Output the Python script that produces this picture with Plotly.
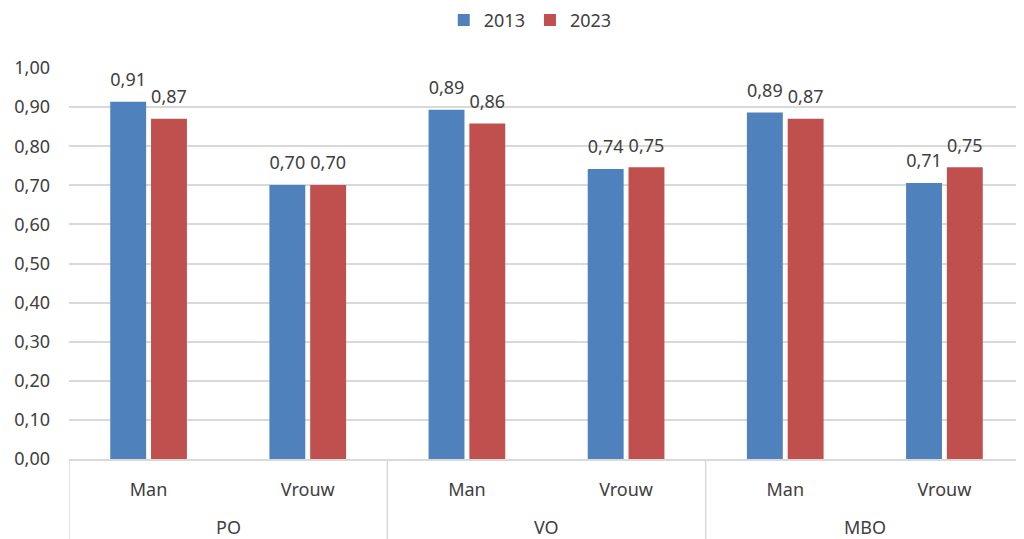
import plotly.graph_objects as go

group_names = ["PO", "VO", "MBO"]
groups = ["PO", "PO", "VO", "VO", "MBO", "MBO"]
genders = ["Man", "Vrouw", "Man", "Vrouw", "Man", "Vrouw"]
values_2013 = [0.914, 0.701, 0.893, 0.742, 0.886, 0.706]
values_2023 = [0.870, 0.701, 0.858, 0.746, 0.870, 0.746]
series_names = ["2013", "2023"]
colors = ["#4F81BD", "#C0504D"]

font_family = "Noto Sans, Open Sans, sans-serif"
text_color = "#404040"
grid_color = "#D9D9D9"

categories = [f"{g} {s}" for g, s in zip(groups, genders)]

fig = go.Figure()
for name, vals, col in zip(series_names, [values_2013, values_2023], colors):
    fig.add_trace(go.Bar(
        x=categories, y=vals, name=name,
        offsetgroup=name, alignmentgroup="all",
        marker=dict(color=col, line=dict(width=0)),
        cliponaxis=False,
    ))
for name, vals in zip(series_names, [values_2013, values_2023]):
    fig.add_trace(go.Scatter(
        x=categories, y=vals, name=name + " labels",
        offsetgroup=name, alignmentgroup="all",
        mode="markers+text", marker=dict(size=16, opacity=0),
        text=[f"{v:.2f}".replace(".", ",") for v in vals],
        textposition="top center",
        textfont=dict(size=18, color=text_color, family=font_family),
        showlegend=False, hoverinfo="skip", cliponaxis=False,
    ))

# group labels and dividers (positions on the category axis)
for i, g in enumerate(group_names):
    fig.add_annotation(x=2 * i + 0.5, xref="x", y=-68 / 391, yref="paper",
                       text=g, showarrow=False, yanchor="middle",
                       font=dict(size=18, color=text_color, family=font_family))
for xpos in [-0.5, 1.5, 3.5, 5.5]:
    fig.add_shape(type="line", xref="x", yref="paper", x0=xpos, x1=xpos,
                  y0=0, y1=-80 / 391, line=dict(color=grid_color, width=1.5))

fig.update_layout(
    width=1016, height=531,
    separators=",.",
    barmode="group", bargap=0.4875, bargroupgap=0.12,
    scattermode="group", scattergap=0.4875,
    plot_bgcolor="white", paper_bgcolor="white",
    margin=dict(l=61, r=0, t=60, b=80, autoexpand=False),
    font=dict(family=font_family, size=18, color=text_color),
    legend=dict(orientation="h", x=0.483, xanchor="center", y=0.977, yref="container",
                yanchor="middle", font=dict(size=18), traceorder="normal"),
    showlegend=True,
)
fig.update_yaxes(range=[0, 1.0], dtick=0.1, tickformat=".2f",
                 showgrid=True, gridcolor=grid_color, gridwidth=1.5,
                 zeroline=False, showline=False, ticks="",
                 ticklabelstandoff=18, automargin=False,
                 tickfont=dict(size=18, color=text_color))
fig.update_xaxes(type="category", range=[-0.5, 5.5],
                 showline=True, linecolor=grid_color, linewidth=1.5,
                 tickvals=categories, ticktext=genders,
                 ticks="", ticklabelstandoff=14, automargin=False,
                 tickfont=dict(size=18, color=text_color))

fig.write_html("out.html")
